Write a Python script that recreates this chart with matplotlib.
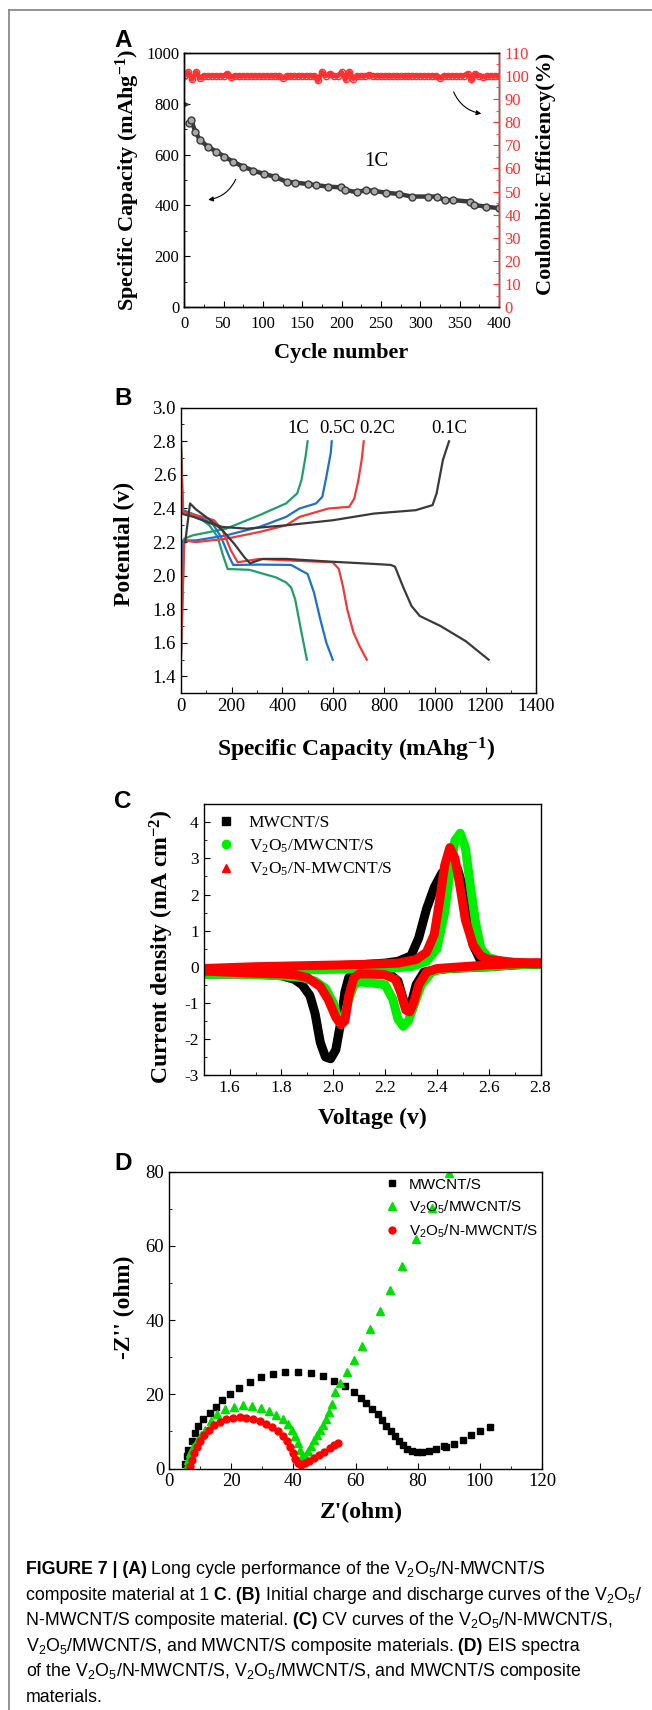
import matplotlib
matplotlib.use('Agg')
import matplotlib.pyplot as plt
from matplotlib.lines import Line2D
from matplotlib.ticker import MultipleLocator

plt.rcParams['font.family'] = 'Liberation Serif'
plt.rcParams['mathtext.default'] = 'regular'
plt.rcParams['axes.unicode_minus'] = False

W, H = 652, 1710

# ---------------- data: panel A (cycling at 1C) ----------------
cycle = [1, 6, 9, 14, 20, 30, 41, 51, 62, 75, 88, 101, 115, 130, 141, 157, 167, 183,
         199, 204, 220, 231, 241, 257, 273, 289, 310, 321, 331, 342, 363, 368, 384, 400]
capacity = [800, 722, 735, 690, 657, 631, 611, 592, 572, 552, 537, 524, 513, 493, 490,
            484, 480, 474, 471, 461, 452, 461, 457, 450, 445, 435, 435, 435, 421, 421,
            415, 402, 395, 389]
ce_cycle = list(range(0, 401, 5))
ce = [100.0, 101.5, 98.5, 101.5, 99.0, 100.0, 100.0, 100.0, 100.0, 100.0, 100.0, 101.0,
      99.5, 100.0, 100.0, 100.0, 100.0, 100.0, 100.0, 100.0, 100.0, 100.0, 100.0, 100.0,
      100.0, 99.0, 100.0, 100.0, 100.0, 100.0, 100.0, 100.0, 100.0, 100.0, 98.0, 101.5,
      100.0, 101.0, 100.0, 100.0, 101.5, 98.5, 101.5, 98.8, 100.0, 100.0, 100.0, 100.5,
      100.0, 100.0, 100.0, 100.0, 100.0, 100.0, 100.0, 100.0, 100.0, 100.0, 100.0, 100.0,
      100.0, 100.0, 100.0, 100.0, 100.0, 99.0, 100.0, 100.0, 100.0, 100.0, 100.0, 100.0,
      101.0, 98.5, 101.0, 100.0, 99.5, 100.0, 100.0, 100.0, 100.0]

# ---------------- data: panel B (charge / discharge) ----------------
rates = ['1C', '0.5C', '0.2C', '0.1C']
rate_colors = ['#1f9e6a', '#1f6fd0', '#f03a3a', '#3a3a3a']
dis_cap = [
    [0, 9, 59, 112, 145, 164, 184, 270, 374, 414, 434, 450, 470, 483, 496],
    [0, 4, 72, 125, 158, 191, 206, 309, 434, 499, 524, 549, 573, 598],
    [0, 7, 86, 131, 164, 197, 224, 309, 434, 598, 622, 639, 655, 680, 704, 732],
    [17, 36, 59, 112, 164, 210, 250, 272, 322, 414, 598, 761, 827, 843, 876, 908, 941,
     1023, 1122, 1212],
]
dis_v = [
    [2.80, 2.39, 2.36, 2.30, 2.23, 2.13, 2.04, 2.035, 1.99, 1.96, 1.93, 1.86, 1.70, 1.60, 1.50],
    [2.79, 2.39, 2.35, 2.31, 2.23, 2.11, 2.064, 2.066, 2.064, 2.01, 1.90, 1.74, 1.60, 1.50],
    [2.80, 2.38, 2.35, 2.33, 2.27, 2.15, 2.08, 2.10, 2.09, 2.08, 2.04, 1.93, 1.80, 1.66, 1.58, 1.50],
    [2.20, 2.43, 2.395, 2.335, 2.27, 2.19, 2.11, 2.074, 2.10, 2.10, 2.083, 2.07, 2.064, 2.054,
     1.93, 1.82, 1.76, 1.70, 1.61, 1.50],
]
chg_cap = [
    [0, 13, 46, 178, 309, 414, 458, 475, 491, 499],
    [0, 8, 59, 178, 309, 414, 467, 532, 557, 573, 590, 594],
    [0, 13, 59, 178, 309, 414, 467, 581, 663, 683, 699, 712, 720],
    [0, 50, 120, 164, 260, 414, 598, 761, 925, 991, 1007, 1032, 1056],
]
chg_v = [
    [1.51, 2.22, 2.24, 2.28, 2.36, 2.43, 2.49, 2.57, 2.71, 2.80],
    [1.50, 2.21, 2.21, 2.24, 2.29, 2.35, 2.40, 2.43, 2.47, 2.59, 2.73, 2.80],
    [1.50, 2.21, 2.20, 2.22, 2.26, 2.30, 2.35, 2.40, 2.41, 2.46, 2.57, 2.69, 2.80],
    [2.37, 2.35, 2.31, 2.29, 2.28, 2.30, 2.33, 2.37, 2.39, 2.42, 2.49, 2.69, 2.80],
]
rate_label_x = [463, 617, 775, 1056]

# ---------------- data: panel C (CV) ----------------
cv_names = ['MWCNT/S', 'V$_2$O$_5$/MWCNT/S', 'V$_2$O$_5$/N-MWCNT/S']
cv_colors = ['#000000', '#00ee00', '#ff0000']
cv_markers = ['s', 'o', '^']
cv_v = [
    [2.80, 2.70, 2.60, 2.50, 2.45, 2.40, 2.35, 2.32, 2.30, 2.285, 2.27, 2.25, 2.22, 2.18,
     2.12, 2.08, 2.06, 2.045, 2.03, 2.01, 1.99, 1.97, 1.95, 1.93, 1.91, 1.88, 1.85, 1.80,
     1.70, 1.60, 1.50,
     1.50, 1.70, 1.90, 2.10, 2.20, 2.25, 2.30, 2.33, 2.36, 2.39, 2.42, 2.45, 2.48, 2.50,
     2.52, 2.54, 2.57, 2.60, 2.70, 2.80],
    [2.80, 2.70, 2.60, 2.50, 2.42, 2.38, 2.34, 2.31, 2.29, 2.27, 2.25, 2.23, 2.20, 2.15,
     2.10, 2.08, 2.06, 2.04, 2.03, 2.02, 2.00, 1.97, 1.93, 1.88, 1.80, 1.70, 1.60, 1.50,
     1.50, 1.80, 2.00, 2.20, 2.30, 2.36, 2.40, 2.43, 2.45, 2.47, 2.49, 2.51, 2.53, 2.55,
     2.57, 2.60, 2.65, 2.70, 2.80],
    [2.80, 2.70, 2.60, 2.50, 2.40, 2.36, 2.33, 2.31, 2.295, 2.28, 2.26, 2.24, 2.20, 2.15,
     2.10, 2.08, 2.06, 2.045, 2.03, 2.01, 1.98, 1.95, 1.90, 1.85, 1.80, 1.70, 1.60, 1.50,
     1.50, 1.70, 1.90, 2.10, 2.25, 2.32, 2.36, 2.39, 2.41, 2.43, 2.45, 2.47, 2.49, 2.51,
     2.54, 2.57, 2.60, 2.70, 2.80],
]
cv_i = [
    [0.08, 0.05, 0.00, -0.03, -0.05, -0.08, -0.15, -0.50, -1.05, -1.20, -0.90, -0.40, -0.22,
     -0.20, -0.20, -0.22, -0.30, -0.70, -1.50, -2.30, -2.55, -2.50, -2.10, -1.30, -0.80,
     -0.50, -0.35, -0.25, -0.20, -0.20, -0.20,
     -0.10, -0.05, 0.00, 0.05, 0.10, 0.15, 0.30, 0.80, 1.60, 2.20, 2.60, 2.75, 2.70, 2.20,
     1.30, 0.60, 0.15, 0.05, 0.06, 0.08],
    [0.08, 0.05, 0.00, -0.03, -0.06, -0.15, -0.50, -1.10, -1.50, -1.65, -1.45, -0.90, -0.50,
     -0.45, -0.42, -0.50, -0.90, -1.50, -1.60, -1.50, -1.00, -0.60, -0.40, -0.30, -0.25,
     -0.22, -0.20, -0.20,
     -0.20, -0.10, -0.07, -0.05, 0.00, 0.15, 0.50, 1.50, 2.60, 3.50, 3.70, 3.30, 2.20, 1.20,
     0.50, 0.25, 0.15, 0.10, 0.08],
    [0.10, 0.08, 0.05, 0.00, -0.05, -0.15, -0.50, -1.00, -1.25, -1.20, -0.70, -0.35, -0.22,
     -0.20, -0.20, -0.30, -0.80, -1.50, -1.60, -1.40, -0.90, -0.55, -0.30, -0.22, -0.20,
     -0.18, -0.15, -0.12,
     -0.05, 0.00, 0.03, 0.06, 0.10, 0.20, 0.40, 0.90, 1.80, 2.80, 3.30, 3.00, 2.20, 1.30,
     0.60, 0.30, 0.20, 0.12, 0.10],
]

# ---------------- data: panel D (EIS) ----------------
eis_names = ['MWCNT/S', 'V$_2$O$_5$/MWCNT/S', 'V$_2$O$_5$/N-MWCNT/S']
eis_colors = ['#000000', '#00e000', '#ff0000']
eis_markers = ['s', '^', 'o']
eis_re = [
    [5.0, 5.6, 6.1, 7.2, 8.2, 9.3, 10.9, 13.0, 15.0, 17.1, 19.5, 22.5, 25.9, 29.4, 33.4,
     37.3, 41.6, 45.7, 49.6, 53.2, 56.7, 59.4, 61.7, 63.5, 65.2, 67.1, 68.4, 69.9, 71.3,
     72.6, 74.0, 75.3, 76.7, 78.3, 79.9, 81.5, 83.6, 85.8, 88.4, 89.1, 91.8, 94.5, 97.2,
     99.9, 103.2],
    [5.8, 6.2, 6.8, 7.7, 8.8, 10.1, 11.4, 13.3, 15.4, 18.1, 20.7, 23.7, 26.6, 29.4, 32.1,
     34.4, 36.6, 38.2, 39.5, 40.5, 41.4, 42.1, 42.7, 42.9, 43.7, 44.6, 45.7, 46.7, 47.6,
     48.6, 49.4, 50.5, 51.3, 52.3, 53.4, 55.0, 57.2, 59.6, 62.2, 64.7, 67.9, 71.2, 75.0,
     79.4, 84.7, 90.2],
    [6.8, 7.3, 7.9, 8.8, 9.8, 11.1, 12.7, 14.4, 16.3, 18.4, 20.5, 22.7, 24.8, 27.0, 29.1,
     31.2, 33.2, 35.0, 36.6, 37.9, 39.0, 39.8, 40.5, 41.4, 42.5, 43.7, 45.1, 46.7, 48.3,
     49.9, 51.6, 53.2, 54.4],
]
eis_im = [
    [1.1, 3.3, 5.1, 7.4, 9.5, 11.4, 13.2, 14.9, 16.7, 18.5, 20.2, 21.7, 23.3, 24.6, 25.5,
     26.0, 26.0, 25.6, 24.9, 23.5, 22.1, 20.6, 19.1, 17.7, 15.9, 14.6, 13.0, 11.4, 10.0,
     8.7, 7.4, 6.2, 5.3, 4.7, 4.4, 4.4, 4.7, 5.3, 6.0, 5.8, 6.7, 7.7, 8.9, 10.2, 11.3],
    [0.8, 2.4, 4.2, 5.9, 7.4, 8.9, 10.5, 12.8, 14.6, 15.9, 16.7, 17.0, 16.8, 16.4, 15.5,
     14.4, 13.2, 11.9, 10.4, 8.7, 6.9, 5.1, 3.3, 2.4, 3.3, 4.7, 6.0, 7.6, 8.9, 10.3, 11.6,
     13.4, 15.3, 17.5, 20.5, 23.0, 25.9, 29.3, 32.9, 37.5, 42.4, 48.0, 54.6, 61.9, 70.2,
     79.5],
    [0.8, 2.4, 4.2, 5.9, 7.4, 8.9, 10.4, 11.6, 12.5, 13.2, 13.6, 13.8, 13.7, 13.4, 12.8,
     12.1, 11.2, 10.1, 8.7, 7.4, 5.9, 4.2, 2.6, 1.4, 1.0, 1.4, 2.0, 2.8, 3.6, 4.5, 5.4,
     6.3, 7.0],
]

caption_lines = [
    [('FIGURE 7 | (A)', True), (' Long cycle performance of the V$_2$O$_5$/N-MWCNT/S', False)],
    [('composite material at 1', False), (' C', True), ('.', False), (' (B)', True),
     (' Initial charge and discharge curves of the V$_2$O$_5$/', False)],
    [('N-MWCNT/S composite material.', False), (' (C)', True),
     (' CV curves of the V$_2$O$_5$/N-MWCNT/S,', False)],
    [('V$_2$O$_5$/MWCNT/S, and MWCNT/S composite materials.', False), (' (D)', True),
     (' EIS spectra', False)],
    [('of the V$_2$O$_5$/N-MWCNT/S, V$_2$O$_5$/MWCNT/S, and MWCNT/S composite', False)],
    [('materials.', False)],
]


def fx(px):
    return px / W


def fy(py):
    return 1 - py / H


def axes_at(left, top, right, bottom):
    return fig.add_axes([fx(left), fy(bottom), (right - left) / W, (bottom - top) / H])


def style(ax, size):
    ax.tick_params(which='both', direction='in', labelsize=size)
    ax.tick_params(which='major', length=4)
    ax.tick_params(which='minor', length=2)
    for s in ax.spines.values():
        s.set_linewidth(1.0)


fig = plt.figure(figsize=(W / 100, H / 100), dpi=100)

# frame around the figure
fig.add_artist(Line2D([fx(8.5), 1], [fy(10.5), fy(10.5)], color='#8a8a8a', lw=1.3))
fig.add_artist(Line2D([fx(8.5), fx(8.5)], [fy(10.5), 0], color='#8a8a8a', lw=1.3))

label_font = dict(fontweight='bold', ha='center', va='center')
panel_font = dict(family='Liberation Sans', fontweight='bold', fontsize=17.5, va='baseline')

# ---------------- panel A ----------------
axA = axes_at(184.2, 52.7, 499, 307.3)
axA.plot(cycle[1:], capacity[1:], color='#3a3a3a', lw=3.2, marker='o', ms=5,
         mfc='#a8a8a8', mec='#3a3a3a', mew=1)
axA.plot(cycle[:1], capacity[:1], ls='none', marker='>', ms=4, color='#3a3a3a')
axA.set_xlim(0, 400)
axA.set_ylim(0, 1000)
axA.set_xticks(range(0, 401, 50))
axA.xaxis.set_minor_locator(MultipleLocator(25))
axA.set_yticks(range(0, 1001, 200))
axA.yaxis.set_minor_locator(MultipleLocator(100))
style(axA, 12)
axA.tick_params(axis='x', pad=6)
axA.text(244, 572, '1C', fontsize=15, ha='center', va='center')
axA.annotate('', xy=(27, 421), xytext=(67, 513),
             arrowprops=dict(arrowstyle='-|>', connectionstyle='arc3,rad=-0.3',
                             color='k', lw=0.8, mutation_scale=7))
axA.annotate('', xy=(381, 759), xytext=(341, 856),
             arrowprops=dict(arrowstyle='-|>', connectionstyle='arc3,rad=0.3',
                             color='k', lw=0.8, mutation_scale=7))
axA2 = axA.twinx()
axA2.plot(ce_cycle, ce, color='#ff3030', lw=3.5, marker='o', ms=4.5, mfc='none',
          mec='#ff3030', mew=1)
axA2.set_ylim(0, 110)
axA2.set_yticks(range(0, 111, 10))
axA2.yaxis.set_minor_locator(MultipleLocator(5))
style(axA2, 12)
axA2.tick_params(axis='y', which='both', colors='#ff3030', pad=4)
axA2.spines['right'].set_color('#ff3030')
fig.text(fx(127.6), fy(180), 'Specific Capacity (mAhg$^{-1}$)', rotation=90, fontsize=16,
         **label_font)
fig.text(fx(546), fy(174), 'Coulombic Efficiency(%)', rotation=90, fontsize=16,
         **label_font)
fig.text(fx(341), fy(353), 'Cycle number', fontsize=16, **label_font)
fig.text(fx(114), fy(46.7), 'A', **panel_font)

# ---------------- panel B ----------------
axB = axes_at(180.9, 407.7, 536.4, 693.3)
for i in range(len(rates)):
    axB.plot(dis_cap[i], dis_v[i], color=rate_colors[i], lw=1.6)
    axB.plot(chg_cap[i], chg_v[i], color=rate_colors[i], lw=1.6)
    axB.text(rate_label_x[i], 2.877, rates[i], fontsize=13.5, ha='center', va='center')
axB.set_xlim(0, 1400)
axB.set_ylim(1.3, 3.0)
axB.set_xticks(range(0, 1401, 200))
axB.xaxis.set_minor_locator(MultipleLocator(100))
axB.set_yticks([1.4, 1.6, 1.8, 2.0, 2.2, 2.4, 2.6, 2.8, 3.0])
axB.yaxis.set_minor_locator(MultipleLocator(0.1))
style(axB, 13.5)
fig.text(fx(124.7), fy(544), 'Potential (v)', rotation=90, fontsize=17, **label_font)
fig.text(fx(355.6), fy(750), 'Specific Capacity (mAhg$^{-1}$)', fontsize=17, **label_font)
fig.text(fx(114), fy(405), 'B', **panel_font)

# ---------------- panel C ----------------
axC = axes_at(203.7, 804.3, 540.5, 1075)
for i in range(3):
    axC.plot(cv_v[i], cv_i[i], color=cv_colors[i], lw=6.5, solid_joinstyle='round',
             solid_capstyle='round')
axC.set_xlim(1.5, 2.8)
axC.set_ylim(-3, 4.5)
axC.set_xticks([1.6, 1.8, 2.0, 2.2, 2.4, 2.6, 2.8])
axC.xaxis.set_minor_locator(MultipleLocator(0.1))
axC.set_yticks(range(-3, 5))
axC.yaxis.set_minor_locator(MultipleLocator(0.5))
style(axC, 12.5)
handles = [Line2D([], [], ls='none', marker=cv_markers[i], color=cv_colors[i], ms=6)
           for i in range(3)]
axC.legend(handles, cv_names, loc='upper left', bbox_to_anchor=(0.02, 0.985), frameon=False,
           fontsize=12.5, handlelength=1.0, handletextpad=0.8, labelspacing=0.35,
           borderaxespad=0)
fig.text(fx(162), fy(946.5), 'Current density (mA cm$^{-2}$)', rotation=90, fontsize=17,
         **label_font)
fig.text(fx(372), fy(1118), 'Voltage (v)', fontsize=17, **label_font)
fig.text(fx(114), fy(808), 'C', **panel_font)

# ---------------- panel D ----------------
axD = axes_at(169.2, 1171.5, 542, 1468.5)
ms_d = [4.5, 5.5, 5.0]
for i in range(3):
    axD.plot(eis_re[i], eis_im[i], ls='none', marker=eis_markers[i], color=eis_colors[i],
             ms=ms_d[i], label=eis_names[i])
axD.set_xlim(0, 120)
axD.set_ylim(0, 80)
axD.set_xticks(range(0, 121, 20))
axD.xaxis.set_minor_locator(MultipleLocator(10))
axD.set_yticks(range(0, 81, 20))
axD.yaxis.set_minor_locator(MultipleLocator(10))
style(axD, 13.5)
axD.legend(loc='upper left', bbox_to_anchor=(0.56, 1.0), frameon=False,
           prop=dict(family='Liberation Sans', size=11), handlelength=1.0,
           handletextpad=0.6, labelspacing=0.45, borderaxespad=0)
fig.text(fx(124.7), fy(1307.5), "-Z'' (ohm)", rotation=90, fontsize=17, **label_font)
fig.text(fx(361.7), fy(1512), "Z'(ohm)", fontsize=17, **label_font)
fig.text(fx(114), fy(1170), 'D', **panel_font)

# ---------------- caption ----------------
renderer = fig.canvas.get_renderer()
baselines = [1574.2, 1599.7, 1625.2, 1650.7, 1676.2, 1701.7]
for base, pieces in zip(baselines, caption_lines):
    x = 25.5
    for s, bold in pieces:
        t = fig.text(fx(x), fy(base), s, family='Liberation Sans', fontsize=12.8,
                     fontweight='bold' if bold else 'normal', va='baseline', ha='left')
        x += t.get_window_extent(renderer).width

fig.savefig('out.png', dpi=100)
